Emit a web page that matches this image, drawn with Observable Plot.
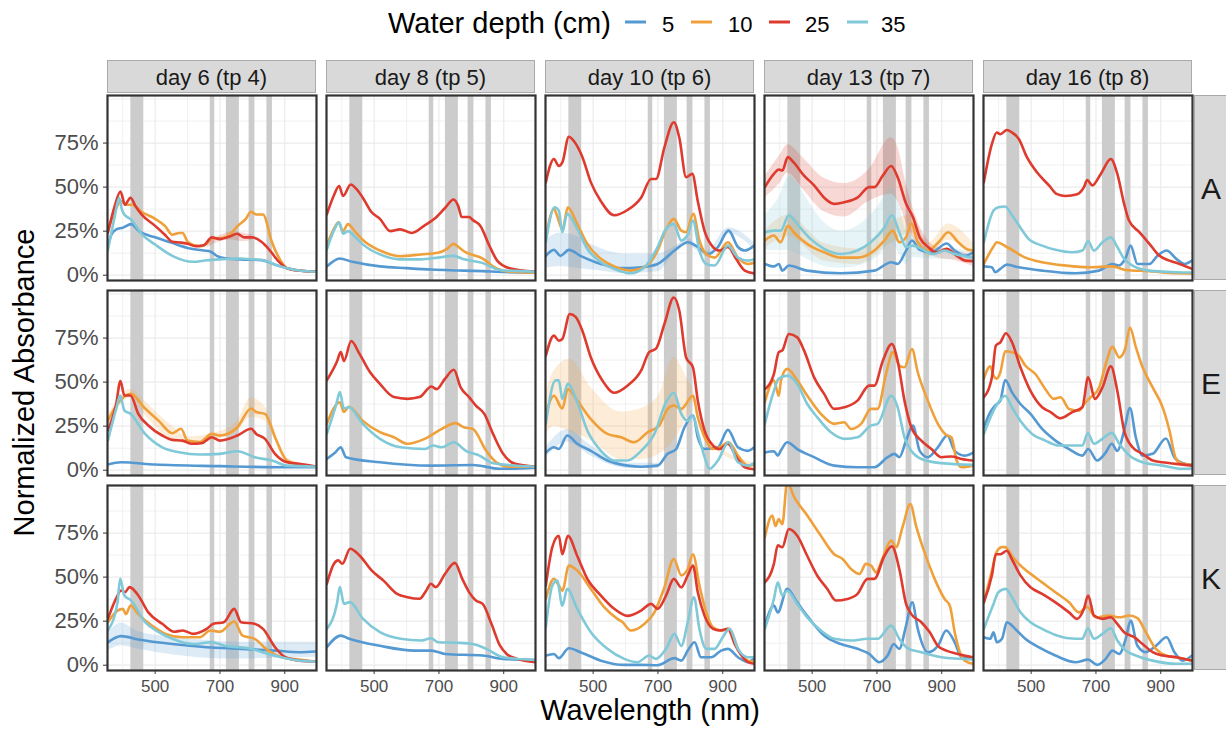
<!DOCTYPE html>
<html><head><meta charset="utf-8">
<script src="https://cdn.jsdelivr.net/npm/d3@7"></script>
<script src="https://cdn.jsdelivr.net/npm/@observablehq/plot@0.6"></script>
<style>
body{margin:0;background:#fff;}
#fig{position:relative;width:1226px;height:729px;overflow:hidden;background:#fff;}
</style></head><body><div id="fig"></div><script>
const FONT = '"Liberation Sans", Arial, Helvetica, sans-serif';
const days = ["day 6 (tp 4)", "day 8 (tp 5)", "day 10 (tp 6)", "day 13 (tp 7)", "day 16 (tp 8)"];
const sites = ["A", "E", "K"];
const depths = [5, 10, 25, 35];
const colors = ["#5599d2", "#f0a03a", "#de3a2e", "#80c9d8"];
const bands = [[425, 465], [670, 684], [720, 760], [790, 808], [845, 862]];
const xTicks = [500, 700, 900];
const xMinor = [400, 600, 800];
const yTicks = [0, 0.25, 0.5, 0.75];
const yMajorGrid = [0, 0.25, 0.5, 0.75, 1];
const yMinorGrid = [0.125, 0.375, 0.625, 0.875];
const xDomain = [353, 998];
const yDomain = [-0.03, 1.02];

// ---- site A ----
const A6_5 = [[354,.16],[365,.23],[380,.26],[400,.27],[426,.29],[450,.25],[500,.215],[550,.185],[600,.155],[650,.14],[670,.135],[690,.11],[720,.095],[765,.09],[828,.085],[870,.06],[907,.04],[950,.025],[997,.02]];
const A6_10 = [[354,.25],[375,.36],[395,.42],[410,.40],[430,.40],[458,.36],[500,.32],[530,.28],[553,.23],[575,.24],[585,.24],[600,.19],[620,.17],[640,.165],[660,.18],[675,.21],[700,.21],[730,.23],[755,.28],[780,.32],[796,.36],[812,.345],[833,.345],[860,.19],[885,.09],[907,.04],[950,.025],[997,.02]];
const A6_25 = [[354,.24],[375,.39],[393,.475],[407,.40],[424,.44],[440,.39],[458,.345],[500,.28],[530,.23],[553,.19],[580,.185],[600,.178],[625,.165],[650,.17],[675,.215],[700,.205],[730,.22],[753,.235],[775,.215],[800,.215],[828,.19],[850,.15],[880,.08],[907,.04],[950,.025],[997,.02]];
const A6_35 = [[354,.14],[375,.33],[389,.44],[398,.37],[405,.345],[426,.316],[460,.23],[500,.174],[553,.11],[617,.076],[660,.085],[700,.09],[765,.095],[800,.09],[828,.088],[870,.06],[907,.04],[950,.025],[997,.02]];
const A8_5 = [[354,.05],[375,.08],[393,.095],[433,.076],[518,.05],[600,.04],[676,.032],[760,.027],[834,.023],[900,.018],[997,.015]];
const A8_10 = [[354,.17],[375,.26],[390,.30],[404,.25],[419,.29],[440,.25],[465,.20],[518,.14],[580,.108],[644,.118],[697,.127],[725,.15],[745,.178],[760,.16],[777,.136],[834,.095],[876,.04],[918,.02],[997,.015]];
const A8_25 = [[354,.345],[375,.45],[392,.506],[404,.45],[428,.515],[445,.49],[465,.44],[491,.36],[518,.32],[550,.25],[580,.26],[617,.24],[654,.28],[686,.32],[718,.38],[745,.43],[760,.39],[770,.33],[792,.33],[807,.31],[828,.28],[855,.17],[881,.08],[918,.04],[997,.02]];
const A8_35 = [[354,.145],[375,.25],[392,.30],[404,.235],[419,.25],[440,.22],[465,.175],[518,.118],[580,.09],[644,.09],[697,.10],[745,.11],[777,.09],[834,.07],[887,.03],[997,.02]];
const A10_5 = [[354,.11],[379,.144],[399,.11],[425,.144],[461,.11],[524,.064],[586,.04],[648,.045],[699,.064],[751,.14],[792,.187],[823,.16],[854,.12],[885,.16],[918,.253],[947,.16],[968,.14],[997,.168]];
const A10_10 = [[354,.215],[379,.376],[390,.33],[405,.26],[422,.385],[451,.29],[482,.178],[524,.093],[565,.05],[616,.026],[658,.045],[699,.14],[725,.26],[749,.32],[772,.253],[787,.244],[809,.348],[828,.197],[849,.12],[875,.10],[916,.187],[947,.10],[978,.064],[997,.07]];
const A10_25 = [[354,.527],[379,.66],[394,.62],[405,.64],[425,.786],[441,.76],[467,.67],[493,.527],[524,.42],[565,.34],[606,.37],[648,.44],[679,.546],[694,.546],[720,.726],[749,.868],[766,.78],[787,.556],[806,.575],[823,.42],[844,.25],[870,.16],[890,.14],[916,.16],[942,.09],[968,.026],[997,.01]];
const A10_35 = [[354,.187],[381,.386],[394,.367],[405,.244],[420,.348],[451,.263],[482,.15],[524,.074],[565,.036],[616,.011],[658,.045],[699,.159],[725,.263],[749,.29],[772,.197],[792,.23],[808,.31],[828,.14],[849,.064],[875,.055],[916,.168],[947,.10],[978,.083],[997,.09]];
const A13_5 = [[354,.064],[382,.05],[397,.064],[408,.026],[428,.055],[484,.026],[589,.011],[692,.026],[744,.074],[764,.064],[790,.14],[808,.197],[832,.144],[868,.13],[915,.18],[940,.14],[972,.11],[997,.13]];
const A13_10 = [[354,.197],[382,.225],[403,.187],[425,.28],[443,.244],[484,.178],[537,.13],[589,.10],[640,.10],[692,.14],[723,.197],[749,.253],[769,.187],[790,.215],[806,.295],[826,.187],[858,.14],[890,.187],[920,.244],[951,.187],[982,.144],[997,.14]];
const A13_25 = [[354,.50],[382,.575],[397,.60],[408,.594],[425,.67],[443,.64],[475,.565],[506,.51],[537,.44],[568,.405],[599,.414],[640,.44],[676,.50],[692,.50],[718,.565],[744,.62],[764,.556],[790,.405],[811,.33],[832,.215],[858,.16],[884,.13],[915,.15],[946,.11],[972,.083],[997,.08]];
const A13_35 = [[354,.244],[382,.253],[403,.253],[428,.34],[454,.29],[495,.206],[537,.15],[589,.12],[640,.14],[681,.187],[723,.27],[746,.34],[769,.244],[790,.16],[811,.168],[837,.15],[873,.12],[909,.14],[940,.12],[997,.10]];
const A16_5 = [[354,.05],[379,.045],[389,.017],[405,.036],[425,.06],[462,.045],[534,.026],[637,.011],[709,.026],[751,.064],[771,.055],[792,.10],[807,.168],[828,.064],[865,.064],[890,.11],[918,.14],[948,.093],[973,.064],[997,.083]];
const A16_10 = [[354,.064],[384,.163],[394,.187],[425,.16],[482,.10],[534,.074],[606,.055],[679,.045],[751,.05],[792,.03],[865,.023],[948,.011],[997,.01]];
const A16_25 = [[354,.527],[379,.745],[394,.81],[405,.80],[425,.824],[441,.81],[462,.773],[487,.67],[518,.584],[555,.51],[580,.46],[606,.45],[642,.46],[663,.50],[673,.54],[689,.51],[715,.575],[746,.66],[766,.575],[787,.405],[802,.31],[834,.244],[865,.178],[896,.11],[927,.083],[958,.064],[997,.036]];
const A16_35 = [[354,.187],[384,.367],[399,.386],[420,.39],[441,.34],[467,.27],[492,.206],[534,.168],[575,.144],[627,.13],[658,.14],[676,.193],[694,.14],[720,.187],[746,.215],[766,.16],[787,.093],[813,.055],[865,.026],[948,.017],[997,.015]];

// ---- site E ----
const E6_5 = [[354,.032],[395,.045],[500,.032],[700,.023],[907,.017],[997,.017]];
const E6_10 = [[354,.28],[384,.377],[424,.434],[469,.35],[511,.28],[553,.21],[580,.235],[600,.168],[638,.16],[675,.206],[700,.197],[754,.244],[796,.35],[812,.33],[839,.32],[870,.1875],[907,.055],[950,.03],[997,.02]];
const E6_25 = [[354,.225],[379,.367],[393,.506],[405,.424],[424,.424],[448,.32],[479,.254],[522,.197],[553,.172],[585,.168],[611,.15],[643,.153],[675,.1875],[700,.168],[754,.197],[796,.235],[812,.206],[839,.178],[870,.093],[907,.045],[944,.036],[997,.02]];
const E6_35 = [[354,.168],[380,.35],[392,.424],[405,.34],[424,.32],[469,.206],[522,.13],[574,.102],[638,.089],[700,.093],[754,.108],[807,.074],[860,.055],[907,.026],[997,.02]];
const E8_5 = [[354,.064],[380,.10],[397,.13],[413,.074],[518,.045],[677,.026],[804,.03],[888,.008],[997,.015]];
const E8_10 = [[354,.263],[394,.386],[407,.33],[422,.36],[465,.28],[518,.216],[561,.1875],[603,.15],[656,.178],[709,.235],[751,.267],[777,.244],[804,.235],[846,.11],[877,.045],[920,.02],[997,.02]];
const E8_25 = [[354,.51],[386,.62],[397,.67],[407,.62],[429,.733],[455,.66],[487,.557],[518,.49],[561,.415],[603,.405],[640,.415],[677,.475],[693,.46],[719,.52],[746,.57],[767,.47],[793,.415],[814,.367],[840,.32],[867,.206],[898,.093],[935,.036],[997,.02]];
const E8_35 = [[354,.206],[384,.38],[394,.443],[407,.35],[422,.358],[465,.263],[518,.178],[582,.13],[656,.12],[682,.14],[709,.13],[746,.159],[783,.11],[825,.083],[867,.04],[997,.02]];
const E10_5 = [[354,.10],[379,.13],[394,.12],[420,.197],[451,.15],[493,.11],[544,.055],[606,.026],[648,.02],[699,.026],[730,.093],[756,.12],[782,.244],[809,.31],[823,.187],[844,.12],[885,.13],[916,.229],[947,.13],[978,.11],[997,.13]];
const E10_10 = [[354,.32],[379,.423],[405,.35],[422,.46],[451,.395],[493,.29],[544,.206],[586,.187],[627,.159],[668,.215],[704,.253],[730,.348],[749,.367],[772,.348],[808,.423],[823,.30],[844,.187],[870,.12],[890,.13],[918,.159],[947,.083],[978,.026],[997,.03]];
const E10_25 = [[354,.65],[379,.764],[394,.735],[405,.745],[428,.887],[446,.87],[467,.79],[493,.64],[529,.508],[565,.44],[606,.48],[648,.565],[673,.67],[694,.69],[720,.83],[749,.98],[766,.905],[787,.64],[808,.584],[823,.395],[844,.225],[870,.14],[890,.12],[916,.15],[942,.074],[968,.017],[997,.005]];
const E10_35 = [[354,.263],[384,.51],[394,.51],[405,.405],[422,.49],[451,.386],[482,.225],[524,.11],[565,.055],[606,.055],[648,.11],[689,.206],[725,.386],[749,.44],[772,.32],[792,.28],[808,.31],[823,.215],[844,.074],[859,.008],[885,.055],[918,.159],[947,.045],[978,.026],[997,.04]];
const E13_5 = [[354,.10],[382,.108],[394,.083],[403,.11],[423,.159],[454,.12],[506,.074],[568,.026],[640,.017],[692,.017],[733,.074],[754,.093],[769,.074],[790,.168],[811,.253],[832,.11],[857,.074],[888,.13],[917,.197],[940,.11],[971,.083],[997,.10]];
const E13_10 = [[354,.386],[382,.51],[397,.423],[404,.51],[423,.575],[454,.51],[485,.423],[527,.32],[568,.263],[599,.272],[620,.234],[651,.263],[682,.348],[702,.348],[728,.546],[749,.67],[769,.594],[785,.584],[808,.688],[826,.556],[857,.395],[888,.263],[914,.20],[930,.187],[946,.055],[961,.017],[997,.026]];
const E13_25 = [[354,.46],[382,.546],[397,.67],[408,.68],[428,.773],[454,.754],[475,.68],[506,.527],[537,.433],[568,.348],[599,.357],[640,.395],[676,.48],[692,.48],[718,.62],[746,.716],[764,.62],[785,.395],[806,.244],[837,.168],[868,.12],[899,.074],[930,.078],[961,.064],[997,.055]];
const E13_35 = [[354,.263],[382,.45],[397,.52],[425,.537],[454,.49],[485,.376],[516,.30],[558,.215],[599,.178],[640,.187],[681,.253],[702,.263],[744,.423],[764,.357],[785,.187],[806,.11],[837,.064],[899,.04],[997,.03]];
const E16_5 = [[354,.244],[374,.33],[389,.367],[405,.395],[420,.512],[441,.442],[467,.376],[498,.32],[534,.234],[575,.168],[617,.12],[658,.083],[676,.12],[704,.055],[730,.10],[749,.15],[766,.11],[787,.225],[805,.353],[823,.187],[844,.083],[875,.093],[916,.18],[942,.074],[968,.04],[997,.03]];
const E16_10 = [[354,.52],[374,.59],[384,.537],[394,.52],[405,.556],[420,.675],[441,.67],[462,.65],[482,.594],[513,.546],[544,.46],[570,.405],[591,.414],[617,.348],[648,.338],[668,.386],[684,.414],[710,.47],[730,.60],[751,.70],[772,.64],[790,.688],[805,.81],[823,.70],[844,.584],[875,.47],[906,.357],[927,.225],[947,.064],[968,.036],[997,.03]];
const E16_25 = [[354,.414],[379,.527],[391,.707],[405,.726],[422,.777],[441,.726],[467,.584],[498,.45],[534,.357],[560,.33],[591,.295],[627,.33],[658,.357],[676,.527],[697,.405],[720,.47],[746,.59],[766,.45],[787,.225],[813,.13],[844,.093],[875,.055],[906,.045],[947,.036],[997,.026]];
const E16_35 = [[354,.206],[384,.338],[399,.386],[420,.423],[441,.357],[467,.28],[503,.206],[544,.168],[586,.14],[627,.14],[658,.14],[675,.21],[694,.15],[720,.178],[749,.212],[772,.15],[803,.083],[844,.045],[906,.026],[968,.008],[997,.01]];

// ---- site K ----
const K6_5 = [[354,.13],[395,.165],[448,.146],[553,.12],[659,.102],[765,.093],[870,.083],[944,.074],[997,.078]];
const K6_10 = [[354,.244],[384,.31],[400,.32],[410,.29],[424,.339],[448,.29],[490,.225],[532,.178],[585,.159],[638,.159],[670,.197],[700,.19],[744,.248],[770,.168],[807,.15],[849,.083],[892,.045],[944,.032],[997,.02]];
const K6_25 = [[354,.263],[379,.377],[395,.424],[407,.415],[421,.443],[448,.396],[479,.30],[522,.235],[559,.19],[585,.197],[617,.178],[659,.206],[680,.235],[712,.244],[744,.32],[765,.244],[807,.235],[833,.206],[870,.102],[902,.045],[944,.026],[997,.02]];
const K6_35 = [[354,.197],[384,.358],[392,.49],[405,.396],[426,.367],[469,.244],[511,.1875],[553,.15],[617,.12],[672,.13],[722,.108],[786,.097],[849,.064],[902,.04],[944,.026],[997,.02]];
const K8_5 = [[354,.102],[397,.168],[423,.15],[518,.11],[624,.083],[677,.083],[719,.064],[835,.055],[899,.036],[997,.03]];
const K8_25 = [[354,.462],[376,.576],[389,.595],[402,.576],[426,.661],[455,.623],[492,.538],[529,.48],[571,.405],[603,.386],[640,.377],[661,.424],[675,.462],[690,.443],[719,.519],[749,.581],[772,.49],[793,.415],[814,.367],[835,.348],[862,.235],[888,.112],[909,.064],[941,.036],[997,.017]];
const K8_35 = [[354,.206],[386,.358],[394,.443],[407,.348],[425,.358],[466,.263],[518,.1875],[582,.15],[645,.14],[675,.153],[698,.13],[761,.127],[804,.12],[846,.093],[899,.045],[997,.03]];
const K10_5 = [[354,.055],[379,.064],[394,.04],[425,.096],[461,.074],[524,.026],[596,.002],[648,.002],[699,0],[751,.04],[772,.026],[792,.083],[813,.13],[833,.045],[864,.045],[895,.083],[916,.093],[947,.045],[978,.017],[997,.04]];
const K10_10 = [[354,.376],[379,.49],[394,.452],[405,.423],[425,.565],[451,.537],[493,.433],[534,.33],[575,.263],[591,.244],[616,.197],[658,.234],[689,.30],[720,.442],[749,.603],[772,.51],[792,.546],[808,.63],[828,.452],[849,.30],[870,.215],[895,.197],[921,.206],[947,.093],[978,.026],[997,.02]];
const K10_25 = [[354,.452],[374,.67],[394,.735],[405,.63],[422,.735],[451,.62],[482,.49],[524,.395],[565,.32],[606,.28],[648,.31],[679,.348],[699,.32],[725,.395],[749,.49],[772,.442],[792,.51],[808,.565],[823,.414],[844,.28],[870,.206],[890,.197],[916,.206],[937,.12],[958,.055],[978,.017],[997,.008]];
const K10_35 = [[354,.215],[374,.452],[389,.48],[405,.338],[420,.433],[451,.32],[493,.187],[544,.093],[596,.036],[637,.017],[673,.055],[694,.036],[725,.093],[751,.178],[772,.11],[792,.244],[811,.386],[828,.206],[849,.093],[875,.093],[900,.159],[921,.206],[947,.093],[978,.045],[997,.045]];
const K13_5 = [[354,.225],[382,.338],[394,.30],[423,.433],[454,.357],[485,.28],[537,.168],[589,.12],[640,.093],[676,.064],[707,.017],[733,.055],[752,.12],[769,.093],[790,.225],[809,.357],[826,.206],[857,.074],[888,.11],[914,.197],[940,.13],[961,.045],[997,.04]];
const K13_10 = [[354,.726],[377,.85],[387,.79],[397,.83],[408,.80],[423,1.04],[443,.96],[485,.85],[527,.735],[568,.63],[594,.603],[620,.546],[646,.518],[666,.575],[682,.565],[697,.527],[718,.61],[744,.707],[759,.67],[780,.79],[803,.915],[821,.79],[847,.64],[878,.49],[909,.376],[925,.338],[940,.187],[956,.074],[971,.026],[997,.008]];
const K13_25 = [[354,.47],[382,.575],[394,.68],[408,.67],[428,.773],[454,.735],[485,.62],[516,.508],[547,.433],[573,.367],[609,.376],[640,.405],[671,.49],[692,.49],[723,.62],[746,.675],[769,.546],[790,.348],[806,.29],[837,.244],[863,.187],[888,.11],[914,.083],[950,.064],[997,.045]];
const K13_35 = [[354,.206],[382,.376],[394,.47],[408,.395],[423,.423],[454,.348],[485,.272],[527,.197],[568,.15],[620,.14],[671,.15],[702,.15],[744,.225],[769,.15],[795,.096],[837,.074],[899,.045],[997,.032]];
const K16_5 = [[354,.159],[374,.15],[384,.187],[394,.13],[410,.15],[425,.244],[451,.206],[482,.15],[523,.102],[575,.055],[637,.017],[676,.032],[704,.002],[730,.036],[751,.083],[772,.064],[792,.15],[807,.253],[828,.11],[854,.074],[885,.11],[918,.159],[942,.074],[968,.026],[997,.055]];
const K16_10 = [[354,.357],[379,.537],[394,.645],[410,.67],[420,.67],[441,.62],[462,.575],[492,.527],[534,.47],[575,.414],[617,.357],[648,.30],[673,.33],[699,.272],[741,.282],[772,.272],[803,.282],[828,.267],[854,.187],[885,.093],[916,.055],[947,.045],[997,.026]];
const K16_25 = [[354,.357],[379,.51],[391,.63],[405,.63],[425,.65],[441,.60],[467,.51],[498,.442],[534,.405],[575,.357],[617,.30],[642,.263],[663,.32],[676,.395],[694,.282],[720,.263],[746,.272],[766,.234],[787,.187],[818,.159],[844,.12],[875,.074],[906,.055],[947,.045],[997,.026]];
const K16_35 = [[354,.206],[384,.348],[399,.414],[422,.433],[441,.386],[467,.30],[498,.244],[534,.206],[575,.172],[617,.153],[658,.15],[675,.21],[694,.15],[720,.178],[746,.21],[766,.14],[792,.083],[823,.055],[875,.026],[947,.008],[997,.008]];

// ---- ribbons: [wavelength, low, high] ----
const A6_25r = [[660,.155,.185],[700,.19,.225],[740,.20,.25],[770,.19,.24],[800,.20,.23]];
const A10_5r = [[354,.04,.20],[400,.05,.24],[450,.04,.22],[500,.03,.17],[600,.01,.12],[700,.02,.12],[750,.12,.16],[792,.17,.205],[850,.105,.135],[918,.235,.27],[997,.15,.185]];
const A13_10r = [[354,.15,.25],[425,.22,.34],[537,.08,.18],[640,.06,.15],[749,.19,.31],[806,.24,.34],[858,.10,.18],[920,.20,.29],[997,.10,.18]];
const A13_25r = [[354,.44,.56],[400,.52,.68],[425,.58,.74],[475,.48,.66],[537,.36,.55],[599,.33,.52],[676,.42,.60],[744,.46,.78],[764,.42,.73],[790,.30,.52],[832,.15,.28],[884,.10,.16],[946,.08,.14],[997,.05,.11]];
const A13_35r = [[354,.14,.34],[400,.14,.45],[428,.14,.56],[454,.12,.52],[495,.08,.40],[537,.05,.30],[589,.04,.25],[640,.05,.28],[700,.10,.38],[746,.18,.50],[769,.12,.40],[790,.06,.25],[811,.10,.22],[873,.09,.15],[940,.09,.15],[997,.08,.12]];
const E6_10r = [[354,.25,.31],[424,.41,.46],[469,.31,.39],[553,.17,.25],[600,.15,.19],[700,.18,.22],[754,.22,.28],[796,.30,.41],[839,.28,.36],[907,.04,.07],[997,.015,.025]];
const E10_5r = [[354,.07,.13],[420,.16,.23],[493,.08,.14],[606,.01,.04],[700,.01,.04]];
const E10_10r = [[354,.20,.44],[379,.25,.56],[428,.22,.63],[493,.17,.47],[586,.06,.33],[648,.06,.35],[704,.09,.43],[749,.17,.64],[790,.30,.52],[808,.39,.46],[844,.17,.21],[997,.02,.04]];
const K6_5r = [[354,.08,.18],[395,.11,.24],[448,.09,.19],[553,.06,.16],[659,.04,.14],[765,.035,.13],[870,.04,.13],[997,.045,.13]];

const curves = {
  A: [[A6_5, A6_10, A6_25, A6_35], [A8_5, A8_10, A8_25, A8_35], [A10_5, A10_10, A10_25, A10_35], [A13_5, A13_10, A13_25, A13_35], [A16_5, A16_10, A16_25, A16_35]],
  E: [[E6_5, E6_10, E6_25, E6_35], [E8_5, E8_10, E8_25, E8_35], [E10_5, E10_10, E10_25, E10_35], [E13_5, E13_10, E13_25, E13_35], [E16_5, E16_10, E16_25, E16_35]],
  K: [[K6_5, K6_10, K6_25, K6_35], [K8_5, null, K8_25, K8_35], [K10_5, K10_10, K10_25, K10_35], [K13_5, K13_10, K13_25, K13_35], [K16_5, K16_10, K16_25, K16_35]]
};
const ribbonList = [
  {site: "A", day: 0, k: 2, data: A6_25r},
  {site: "A", day: 2, k: 0, data: A10_5r},
  {site: "A", day: 3, k: 1, data: A13_10r},
  {site: "A", day: 3, k: 2, data: A13_25r},
  {site: "A", day: 3, k: 3, data: A13_35r},
  {site: "E", day: 0, k: 1, data: E6_10r},
  {site: "E", day: 2, k: 0, data: E10_5r},
  {site: "E", day: 2, k: 1, data: E10_10r},
  {site: "K", day: 0, k: 0, data: K6_5r}
];

// ---- layout ----
const LEFT0 = 107, COLSTEP = 219, PW = 209, TOP0 = 95, ROWSTEP = 195, PH = 185;
const fig = document.getElementById("fig");
const NS = "http://www.w3.org/2000/svg";
const ov = document.createElementNS(NS, "svg");
ov.setAttribute("width", 1226); ov.setAttribute("height", 729);
ov.style.position = "absolute"; ov.style.left = "0"; ov.style.top = "0";
ov.style.fontFamily = FONT;
fig.appendChild(ov);
function el(tag, attrs, text) {
  const e = document.createElementNS(NS, tag);
  for (const k in attrs) e.setAttribute(k, attrs[k]);
  if (text != null) e.textContent = text;
  ov.appendChild(e);
  return e;
}
// legend
el("text", {x: 388, y: 33, "font-size": 29, fill: "#000"}, "Water depth (cm)");
const keyX = [625, 691, 769, 847], labX = [662, 728, 805, 881];
depths.forEach((d, i) => {
  el("line", {x1: keyX[i], x2: keyX[i] + 21, y1: 22, y2: 22, stroke: colors[i], "stroke-width": 3});
  el("text", {x: labX[i], y: 32, "font-size": 22, fill: "#000"}, String(d));
});
// strips
days.forEach((d, j) => {
  const x = LEFT0 + j * COLSTEP;
  el("rect", {x: x + 0.5, y: 60.5, width: PW - 1, height: 32, fill: "#d9d9d9", stroke: "#aaaaaa", "stroke-width": 1});
  el("text", {x: x + PW / 2, y: 85, "font-size": 22, fill: "#1a1a1a", "text-anchor": "middle"}, d);
});
sites.forEach((s, i) => {
  const y = TOP0 + i * ROWSTEP;
  el("rect", {x: 1194.5, y: y + 0.5, width: 40, height: PH - 1, fill: "#d9d9d9", stroke: "#aaaaaa", "stroke-width": 1});
  el("text", {x: 1211, y: y + PH / 2 + 11, "font-size": 30, fill: "#1a1a1a", "text-anchor": "middle"}, s);
});
// axis titles
el("text", {x: 650, y: 720, "font-size": 29, fill: "#000", "text-anchor": "middle"}, "Wavelength (nm)");
el("text", {transform: "translate(34,382.5) rotate(-90)", "font-size": 29, fill: "#000", "text-anchor": "middle"}, "Normalized Absorbance");

// ---- panels ----
sites.forEach((s, si) => {
  days.forEach((d, di) => {
    const rows = [];
    curves[s][di].forEach((arr, k) => {
      if (arr) arr.forEach(([w, v]) => rows.push({w, v, d: depths[k]}));
    });
    const rib = ribbonList.filter(r => r.site === s && r.day === di)
      .flatMap(r => r.data.map(([w, lo, hi]) => ({w, lo, hi, d: depths[r.k]})));
    const marks = [
      Plot.ruleX(xMinor, {stroke: "#ebebeb", strokeWidth: 0.7}),
      Plot.ruleX(xTicks, {stroke: "#ebebeb", strokeWidth: 1.2}),
      Plot.ruleY(yMinorGrid, {stroke: "#ebebeb", strokeWidth: 0.7}),
      Plot.ruleY(yMajorGrid, {stroke: "#ebebeb", strokeWidth: 1.2}),
      Plot.rect(bands, {x1: b => b[0], x2: b => b[1], y1: () => yDomain[0], y2: () => yDomain[1], fill: "#cccccc"}),
      Plot.areaY(rib, {x: "w", y1: "lo", y2: "hi", z: "d", fill: "d", fillOpacity: 0.2, curve: "monotone-x", clip: true}),
      Plot.lineY(rows, {x: "w", y: "v", z: "d", stroke: "d", strokeWidth: 2.6, curve: "monotone-x", clip: true}),
      Plot.frame({stroke: "#333333", strokeWidth: 2.2})
    ];
    if (si === sites.length - 1) {
      marks.push(Plot.axisX({ticks: xTicks, tickSize: 4, tickPadding: 5, fontSize: 17, stroke: "#333333", fill: "#4d4d4d", label: null, tickFormat: t => String(t)}));
    }
    if (di === 0) {
      marks.push(Plot.axisY({ticks: yTicks, tickSize: 4, tickPadding: 5, fontSize: 22, stroke: "#333333", fill: "#4d4d4d", label: null, tickFormat: t => Math.round(t * 100) + "%"}));
    }
    const p = Plot.plot({
      width: PW, height: PH,
      marginTop: 0, marginRight: 0, marginBottom: 0, marginLeft: 0,
      style: {overflow: "visible", background: "transparent", fontFamily: FONT},
      x: {domain: xDomain, axis: null},
      y: {domain: yDomain, axis: null},
      color: {type: "ordinal", domain: depths, range: colors},
      marks
    });
    p.style.position = "absolute";
    p.style.left = (LEFT0 + di * COLSTEP) + "px";
    p.style.top = (TOP0 + si * ROWSTEP) + "px";
    fig.appendChild(p);
  });
});
</script></body></html>
